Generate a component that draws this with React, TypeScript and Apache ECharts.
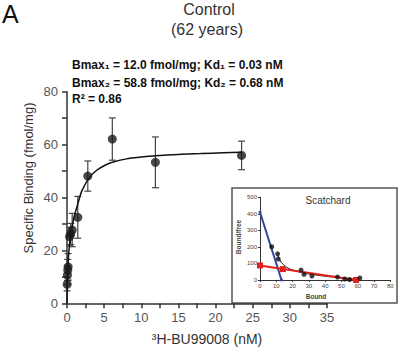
import React, { useEffect, useRef } from "react";
import * as echarts from "echarts";

// Main saturation data (nM, fmol/mg, SEM)
const concX = [0.02, 0.06, 0.1, 0.15, 0.35, 0.5, 0.7, 1.45, 2.8, 6.1, 11.9, 23.5];
const boundY = [7.2, 10.7, 12.6, 13.8, 25.2, 26.2, 27.7, 32.5, 48.1, 62.1, 53.3, 55.9];
const semY = [2.5, 3.5, 4, 5, 3.5, 4, 6.3, 7.9, 5.7, 8, 9.6, 5.4];

// Fitted curve
const fitX = [0, 0.05, 0.1, 0.2, 0.35, 0.5, 0.7, 1, 1.5, 2, 3, 4, 5, 6, 8, 10, 12, 15, 18, 21, 23.5];
const fitY = [0, 8, 12.5, 17.5, 22.5, 25.5, 29, 33, 38, 42.5, 47.5, 50.3, 52, 53.2, 54.6, 55.3, 55.8, 56.3, 56.6, 56.9, 57.1];

// Scatchard inset
const scatX = [7.2, 10.8, 11.2, 25.2, 27, 31.9, 47.6, 52, 55, 61.3];
const scatY = [201, 158, 127, 60, 34, 24, 18, 6, 3, 12];
const blueX = [0, 13.2];
const blueY = [410, 0];
const redX = [0, 14, 59];
const redY = [88, 66, 0];
const curveX = [10.8, 12.5, 15, 18, 22, 27, 33, 40, 48, 55, 60];
const curveY = [158, 115, 88, 68, 54, 42, 32, 23, 15, 8, 5];

const mainXTicks = [0, 5, 10, 15, 20, 25, 30, 35];
const mainYTicks = [0, 20, 40, 60, 80];

const FONT = "'Liberation Sans', Arial, Helvetica, sans-serif";

export default function App() {
  const ref = useRef<HTMLDivElement>(null);
  useEffect(() => {
    if (!ref.current) return;
    const chart = echarts.init(ref.current, null, { renderer: "svg" });
    const pts = concX.map((x, i) => [x, boundY[i], semY[i]]);
    const option: any = {
      animation: false,
      backgroundColor: "#fff",
      textStyle: { fontFamily: FONT },
      grid: [
        { left: 67, right: 73, top: 91.7, bottom: 43.7 },
        { left: 260, right: 9.7, top: 197.3, bottom: 67 },
      ],
      xAxis: [
        {
          gridIndex: 0,
          type: "value",
          min: 0,
          max: 35,
          interval: 2.5,
          splitLine: { show: false },
          axisLine: { onZero: false, lineStyle: { color: "#333", width: 1.5 } },
          axisTick: { length: 5, lineStyle: { color: "#333", width: 1.5 } },
          axisLabel: {
            color: "#555",
            fontSize: 13,
            margin: 8,
            formatter: (v: number) => (mainXTicks.indexOf(v) >= 0 ? String(v) : ""),
          },
        },
        {
          gridIndex: 1,
          type: "value",
          min: 0,
          max: 80,
          interval: 10,
          splitLine: { show: false },
          axisLine: { onZero: false, lineStyle: { color: "#333", width: 1 } },
          axisTick: { length: 2, lineStyle: { color: "#333" } },
          axisLabel: { color: "#444", fontSize: 6, margin: 3 },
        },
      ],
      yAxis: [
        {
          gridIndex: 0,
          type: "value",
          min: 0,
          max: 80,
          interval: 10,
          splitLine: { show: false },
          axisLine: { show: true, onZero: false, lineStyle: { color: "#333", width: 1.5 } },
          axisTick: { show: true, length: 5, lineStyle: { color: "#333", width: 1.5 } },
          axisLabel: {
            color: "#555",
            fontSize: 13,
            margin: 9,
            formatter: (v: number) => (mainYTicks.indexOf(v) >= 0 ? String(v) : ""),
          },
        },
        {
          gridIndex: 1,
          type: "value",
          min: 0,
          max: 500,
          interval: 100,
          splitLine: { show: false },
          axisLine: { show: true, onZero: false, lineStyle: { color: "#333", width: 1 } },
          axisTick: { show: true, length: 2, lineStyle: { color: "#333" } },
          axisLabel: { color: "#444", fontSize: 6, margin: 3 },
        },
      ],
      series: [
        {
          type: "line",
          xAxisIndex: 0,
          yAxisIndex: 0,
          data: fitX.map((x, i) => [x, fitY[i]]),
          smooth: 0.3,
          symbol: "none",
          lineStyle: { color: "#111", width: 1.5 },
          z: 3,
        },
        {
          type: "custom",
          xAxisIndex: 0,
          yAxisIndex: 0,
          data: pts,
          encode: { x: 0, y: 1 },
          renderItem: (params: any, api: any) => {
            const x = api.value(0);
            const y = api.value(1);
            const e = api.value(2);
            const top = api.coord([x, y + e]);
            const bot = api.coord([x, Math.max(0, y - e)]);
            const hw = 3.5;
            const st = { stroke: "#444", lineWidth: 1.2 };
            return {
              type: "group",
              children: [
                { type: "line", shape: { x1: top[0], y1: top[1], x2: bot[0], y2: bot[1] }, style: st },
                { type: "line", shape: { x1: top[0] - hw, y1: top[1], x2: top[0] + hw, y2: top[1] }, style: st },
                { type: "line", shape: { x1: bot[0] - hw, y1: bot[1], x2: bot[0] + hw, y2: bot[1] }, style: st },
              ],
            };
          },
          z: 2,
        },
        {
          type: "scatter",
          xAxisIndex: 0,
          yAxisIndex: 0,
          data: concX.map((x, i) => [x, boundY[i]]),
          symbol: "circle",
          symbolSize: 9,
          itemStyle: { color: "#1a1a1a" },
          z: 4,
        },
        {
          type: "line",
          xAxisIndex: 1,
          yAxisIndex: 1,
          data: blueX.map((x, i) => [x, blueY[i]]),
          symbol: "circle",
          symbolSize: 3,
          lineStyle: { color: "#2b4a9b", width: 2 },
          itemStyle: { color: "#2b4a9b" },
          z: 3,
        },
        {
          type: "line",
          xAxisIndex: 1,
          yAxisIndex: 1,
          data: curveX.map((x, i) => [x, curveY[i]]),
          smooth: 0.4,
          symbol: "none",
          lineStyle: { color: "#111", width: 1 },
          z: 3,
        },
        {
          type: "line",
          xAxisIndex: 1,
          yAxisIndex: 1,
          data: redX.map((x, i) => [x, redY[i]]),
          symbol: "rect",
          symbolSize: 6,
          lineStyle: { color: "#e32119", width: 2 },
          itemStyle: { color: "#e32119" },
          z: 4,
        },
        {
          type: "scatter",
          xAxisIndex: 1,
          yAxisIndex: 1,
          data: scatX.map((x, i) => [x, scatY[i]]),
          symbol: "circle",
          symbolSize: 5,
          itemStyle: { color: "#111" },
          z: 5,
        },
      ],
      graphic: [
        {
          type: "rect",
          shape: { x: 232, y: 188, width: 165, height: 115 },
          style: { fill: "none", stroke: "#555", lineWidth: 1.5 },
        },
        {
          type: "text",
          x: 2,
          y: 14,
          style: { text: "A", font: `25px ${FONT}`, fill: "#111", verticalAlign: "middle" },
        },
        {
          type: "text",
          x: 209,
          y: 9,
          style: { text: "Control", font: `16px ${FONT}`, fill: "#333", align: "center", verticalAlign: "middle" },
        },
        {
          type: "text",
          x: 207,
          y: 29,
          style: { text: "(62 years)", font: `16px ${FONT}`, fill: "#333", align: "center", verticalAlign: "middle" },
        },
        {
          type: "text",
          x: 72,
          y: 65,
          style: { text: "Bmax₁ = 12.0 fmol/mg; Kd₁ = 0.03 nM", font: `bold 12px ${FONT}`, fill: "#111", verticalAlign: "middle" },
        },
        {
          type: "text",
          x: 72,
          y: 82.5,
          style: { text: "Bmax₂ = 58.8 fmol/mg; Kd₂ = 0.68 nM", font: `bold 12px ${FONT}`, fill: "#111", verticalAlign: "middle" },
        },
        {
          type: "text",
          x: 72,
          y: 99,
          style: { text: "R² = 0.86", font: `bold 12px ${FONT}`, fill: "#111", verticalAlign: "middle" },
        },
        {
          type: "text",
          x: 28,
          y: 178,
          rotation: Math.PI / 2,
          style: { text: "Specific Binding (fmol/mg)", font: `13px ${FONT}`, fill: "#333", align: "center", verticalAlign: "middle" },
        },
        {
          type: "text",
          x: 207,
          y: 339,
          style: { text: "³H-BU99008 (nM)", font: `14px ${FONT}`, fill: "#333", align: "center", verticalAlign: "middle" },
        },
        {
          type: "text",
          x: 328,
          y: 200,
          style: { text: "Scatchard", font: `10px ${FONT}`, fill: "#333", align: "center", verticalAlign: "middle" },
        },
        {
          type: "text",
          x: 238,
          y: 237,
          rotation: Math.PI / 2,
          style: { text: "Bound/free", font: `bold 6.5px ${FONT}`, fill: "#444", align: "center", verticalAlign: "middle" },
        },
        {
          type: "text",
          x: 316,
          y: 296,
          style: { text: "Bound", font: `bold 6.5px ${FONT}`, fill: "#444", align: "center", verticalAlign: "middle" },
        },
      ],
    };
    chart.setOption(option);
    return () => chart.dispose();
  }, []);
  return <div ref={ref} style={{ width: 400, height: 347, position: "absolute", left: 0, top: 0 }} />;
}
